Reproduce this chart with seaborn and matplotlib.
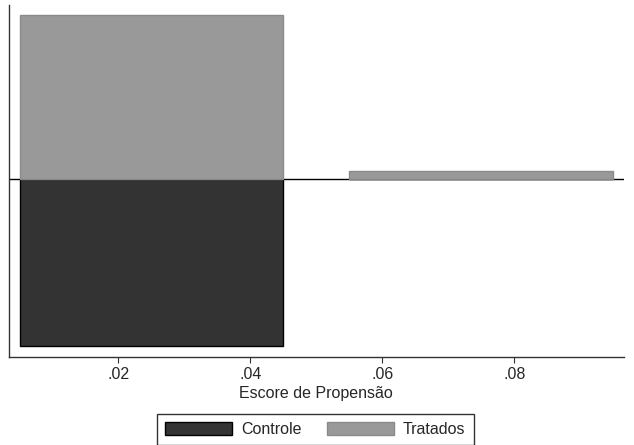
import numpy as np
import pandas as pd
import matplotlib
matplotlib.use("Agg")
import matplotlib.pyplot as plt
import seaborn as sns

# Dados (densidade por faixa do escore)
bin_edges = [0.0, 0.05, 0.10]
bin_centers = [0.025, 0.075]
controle = [25.0, 0.0]
tratados = [24.5, 1.15]
xticks = [0.02, 0.04, 0.06, 0.08]
xtick_labels = [".02", ".04", ".06", ".08"]

sns.set_style("white")
plt.rcParams['font.family'] = ['Liberation Sans', 'DejaVu Sans']

fig = plt.figure(figsize=(6.34, 4.45), dpi=100)
ax = fig.add_axes([0.0137, 0.1984, 0.9705, 0.7904])

df = pd.DataFrame({
    'escore': bin_centers * 2,
    'peso': [-v for v in controle] + tratados,
    'grupo': ['Controle'] * 2 + ['Tratados'] * 2,
})

# Controle para baixo, tratados para cima
sns.histplot(data=df[df['grupo'] == 'Controle'], x='escore', weights='peso',
             bins=bin_edges, shrink=0.8, stat='count', ax=ax,
             color='#333333', edgecolor='black', linewidth=1, alpha=1,
             label='Controle')
sns.histplot(data=df[df['grupo'] == 'Tratados'], x='escore', weights='peso',
             bins=bin_edges, shrink=0.8, stat='count', ax=ax,
             color='#999999', edgecolor='#8a8a8a', linewidth=1, alpha=1,
             label='Tratados')

ax.axhline(0, color='black', linewidth=1, zorder=0.5)

ax.set_xlim(0.00336, 0.0966)
ax.set_ylim(-26.6, 26.05)
ax.set_xticks(xticks)
ax.set_xticklabels(xtick_labels, fontsize=11.5)
ax.set_yticks([])
ax.set_ylabel('')
ax.set_xlabel('Escore de Propensão', fontsize=11.5, labelpad=3)
ax.tick_params(axis='x', length=4.5, width=0.8, color='#333333', pad=3,
               bottom=True, direction='out')

for s in ['top', 'right']:
    ax.spines[s].set_visible(False)
for s in ['left', 'bottom']:
    ax.spines[s].set_color('#333333')
    ax.spines[s].set_linewidth(1)

leg = ax.legend(loc='upper center', bbox_to_anchor=(0.4986, -0.163), ncol=2,
                fontsize=11.5, frameon=True, fancybox=False, edgecolor='black',
                handlelength=4.2, handleheight=0.85, handletextpad=0.55,
                columnspacing=1.6, borderpad=0.5, borderaxespad=0)
leg.get_frame().set_linewidth(1)

fig.savefig('out.png', dpi=100)
